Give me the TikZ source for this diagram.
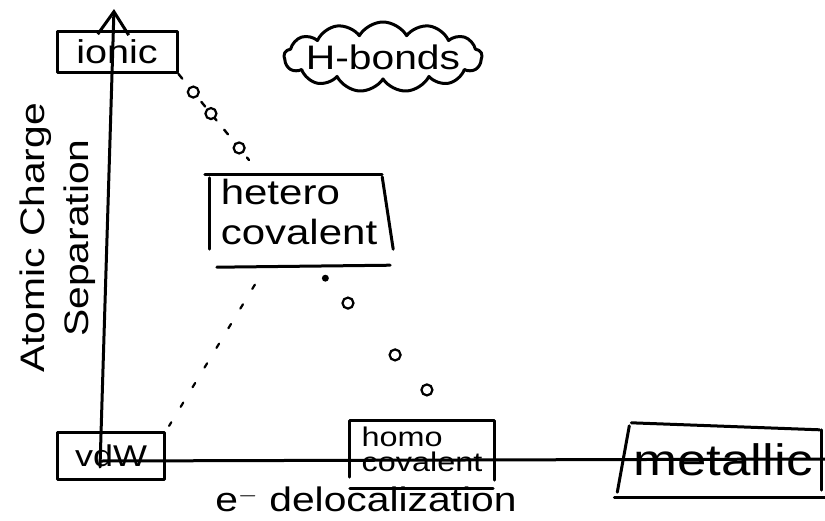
\documentclass[tikz,border=0pt]{standalone}
\usepackage{fontspec}
\newfontfamily\hand[FakeStretch=1.2]{Liberation Sans}
\usetikzlibrary{shapes.symbols,arrows.meta,calc}
\begin{document}
\begin{tikzpicture}[x=1pt,y=-1pt,
  ink/.style={line width=3pt, line cap=round, line join=round},
  lbl/.style 2 args={inner sep=0pt, font=\hand\fontsize{#1}{#2}\selectfont},
  hole/.style={circle, draw, fill=white, line width=2.2pt, minimum size=11pt, inner sep=0pt},
  blob/.style={circle, fill=black, minimum size=7pt, inner sep=0pt},
  faint/.style={line width=2.2pt, line cap=round, dash pattern=on 5pt off 18pt},
  dotted link/.style={line width=2.4pt, line cap=round, dash pattern=on 6pt off 12pt}
]
\useasboundingbox (0,0) rectangle (825,520);

% nodes
\node[lbl={33}{36}, draw, ink, minimum width=120pt, minimum height=41pt] (ionic) at (117,52) {ionic};
\node[cloud, draw, ink, cloud puffs=13, cloud puff arc=120, aspect=2.9,
      minimum width=198pt, minimum height=70pt, inner sep=0pt] (hbc) at (383,57) {};
\node[lbl={34}{36}] (hb) at (hbc.center) {H-bonds};
\node[lbl={35}{40}, align=left, minimum width=188pt, minimum height=74pt] (het) at (299,212) {hetero\\covalent};
\node[lbl={30}{32}, draw, ink, minimum width=107pt, minimum height=47pt] (vdw) at (111,456) {vdW};
\node[lbl={27}{25}, align=left, minimum width=144pt, minimum height=56pt] (homo) at (422,449) {homo\\covalent};
\node[lbl={44}{48}, minimum width=197pt, minimum height=68pt] (met) at (723,460) {metallic};
\node[lbl={34}{44}, rotate=90, align=center] (ylab) at (58,238) {Atomic Charge\\Separation};
\node[lbl={34}{40}] (xlab) at (366,499) {e$^-$ delocalization};

% hetero covalent box (open, with separate underline)
\draw[ink] (het.north west) -- ($(het.north east)+(-11,0)$);
\draw[ink] ($(het.north west)+(5,3)$) -- ($(het.south west)+(5,0)$);
\draw[ink] ($(het.north east)+(-11,2)$) -- (het.south east);
\draw[ink] ($(het.south west)+(12,18)$) -- ($(het.south east)+(-3,16)$);

% homo covalent box
\draw[ink] (homo.north west) -- (homo.north east);
\draw[ink] (homo.north west) -- (homo.south west);
\draw[ink] (homo.north east) -- ($(homo.south east)+(0,3)$);
\draw[ink] ($(homo.south west)+(0,11)$) -- ($(homo.south east)+(-1,11)$);

% metallic box
\draw[ink] ($(met.north west)+(7,-3)$) -- ($(met.north east)+(-2,4)$);
\draw[ink] ($(met.north east)+(0,4)$) -- ($(met.south east)+(0,-4)$);
\draw[ink] ($(met.north west)+(5,0)$) -- ($(met.south west)+(-7,-2)$);
\draw[ink] ($(met.south west)+(-10,3)$) -- ($(met.south east)+(3,3)$);

% axes
\coordinate (yo) at (100,467);
\coordinate (ytop) at (114,9);
\coordinate (xo) at (100,461);
\coordinate (xend) at (825,459);
\draw[ink, -{Straight Barb[length=23pt, width=31pt]}] (yo) -- (ytop);
\draw[ink] (xo) -- (xend);

% ionic -> hetero (dashes and small circles)
\coordinate (c1e) at (249,160);
\draw[dotted link] (ionic.south east) -- (c1e);
\path (ionic.south east) -- (c1e)
  node[hole, pos=0.21] (o1) {}
  node[hole, pos=0.46] (o2) {}
  node[hole, pos=0.86] (o3) {};

% hetero -> homo (dot and circles)
\coordinate (c2e) at ($(homo.north)+(33,0)$);
\path (het.south) -- (c2e)
  node[blob, pos=0.169] (d0) {}
  node[hole, pos=0.314] (o4) {}
  node[hole, pos=0.616] (o5) {}
  node[hole, pos=0.82] (o6) {};

% hetero -> vdW (sparse dashes)
\draw[faint, shorten <=85pt, shorten >=6pt] (het.center) -- (vdw.north east);
\end{tikzpicture}
\end{document}
